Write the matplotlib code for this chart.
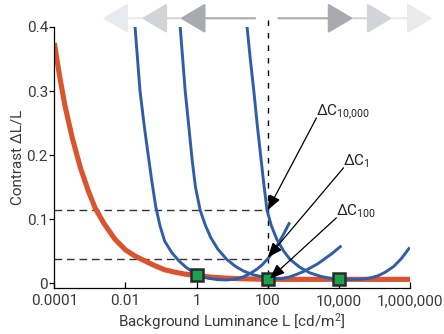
import numpy as np
import matplotlib.pyplot as plt

plt.rcParams['font.family'] = ['Roboto', 'DejaVu Sans']
plt.rcParams['mathtext.default'] = 'regular'

# threshold-vs-intensity curve (log10 L, contrast)
tvi_logL = [-4.0, -3.85, -3.7, -3.5, -3.27, -3.05, -2.85, -2.6, -2.3, -2.0,
            -1.75, -1.5, -1.2, -0.9, -0.6, -0.3, 0.0, 0.4, 0.8, 1.2, 1.6,
            2.0, 3.0, 4.0, 5.0, 6.0]
tvi_c = [0.375, 0.323, 0.277, 0.228, 0.181, 0.145, 0.117, 0.093, 0.069, 0.052,
         0.043, 0.036, 0.028, 0.021, 0.017, 0.014, 0.012, 0.0095, 0.008, 0.007,
         0.0065, 0.006, 0.006, 0.006, 0.006, 0.006]

# contrast curves for eyes adapted to 1, 100 and 10,000 cd/m2
c1_logL = [-1.73, -1.66, -1.59, -1.47, -1.36, -1.26, -1.15, -1.03, -0.9, -0.7,
           -0.5, -0.3, -0.1, 0.1, 0.35, 0.6, 0.85, 1.1, 1.3, 1.5, 1.7, 1.85,
           2.0, 2.15, 2.3, 2.45, 2.6]
c1_c = [0.400, 0.350, 0.300, 0.245, 0.200, 0.160, 0.120, 0.090, 0.066, 0.048,
        0.035, 0.025, 0.017, 0.011, 0.0075, 0.0055, 0.005, 0.0065, 0.0095,
        0.015, 0.022, 0.029, 0.038, 0.049, 0.062, 0.077, 0.093]

c100_logL = [-0.46, -0.39, -0.32, -0.21, -0.12, -0.03, 0.10, 0.25, 0.4, 0.6,
             0.85, 1.1, 1.32, 1.6, 1.9, 2.1, 2.35, 2.6, 2.8, 3.0, 3.2, 3.4,
             3.6, 3.8, 4.04]
c100_c = [0.400, 0.350, 0.300, 0.240, 0.190, 0.150, 0.114, 0.090, 0.071, 0.053,
          0.037, 0.026, 0.019, 0.013, 0.0095, 0.0075, 0.0068, 0.0095, 0.0135,
          0.018, 0.024, 0.030, 0.038, 0.046, 0.057]

c10k_logL = [1.42, 1.51, 1.61, 1.71, 1.80, 1.88, 1.98, 2.1, 2.26, 2.45, 2.63,
             2.9, 3.19, 3.5, 3.8, 4.1, 4.4, 4.7, 4.9, 5.1, 5.3, 5.54, 5.75, 5.97]
c10k_c = [0.400, 0.350, 0.300, 0.245, 0.200, 0.160, 0.114, 0.090, 0.068, 0.050,
          0.037, 0.025, 0.016, 0.0105, 0.0072, 0.006, 0.0058, 0.0065, 0.0085,
          0.0115, 0.017, 0.026, 0.038, 0.054]

# adaptation luminances
adapt_L = [1, 100, 10000]
adapt_c = [0.012, 0.006, 0.006]

probe_L = 100
dc10k = 0.114
dc1 = 0.037

xticks = [1e-4, 1e-2, 1, 1e2, 1e4, 1e6]
xticklabels = ['0.0001', '0.01', '1', '100', '10,000', '1,000,000']
yticks = [0, 0.1, 0.2, 0.3, 0.4]
yticklabels = ['0', '0.1', '0.2', '0.3', '0.4']

red = '#d9542f'
blue = '#2f5cab'
green = '#1aa24c'

fig = plt.figure(figsize=(4.44, 3.34), dpi=100)
ax = fig.add_axes([0.1223, 0.1368, 0.8011, 0.7824])
ax.set_xscale('log')
ax.set_xlim(1e-4, 1e6)
ax.set_ylim(-0.008, 0.4)

lg = lambda v: 10 ** np.asarray(v)

ax.plot(lg(tvi_logL), tvi_c, color=red, lw=3.7, solid_capstyle='butt',
        solid_joinstyle='round', zorder=2)
for lx, cy in [(c1_logL, c1_c), (c100_logL, c100_c), (c10k_logL, c10k_c)]:
    ax.plot(lg(lx), cy, color=blue, lw=2.1, solid_joinstyle='round', zorder=3)

# dashed guides
dash_kw = dict(color='#333333', lw=1.0, dashes=(5.5, 3.5), zorder=1)
ax.plot([1e-4, probe_L], [dc10k, dc10k], **dash_kw)
ax.plot([1e-4, probe_L], [dc1, dc1], **dash_kw)
ax.plot([probe_L, probe_L], [-0.008, 0.42], color='black', lw=1.0,
        dashes=(4, 5), clip_on=False, zorder=1)

ax.plot(adapt_L, adapt_c, 's', ms=9, mfc=green, mec='#2a2a2a', mew=1.8,
        zorder=5)

# adaptation direction arrows above the plot
ya = 0.4136
def top_arrow(x0, x1, col):
    ax.annotate('', xy=(x1, ya), xytext=(x0, ya), annotation_clip=False,
                arrowprops=dict(arrowstyle='-|>,head_length=1.6,head_width=0.95',
                                mutation_scale=10, lw=1.5, color=col,
                                shrinkA=0, shrinkB=0))

light, mid, dark = '#e9eaeb', '#d3d4d6', '#a8aaad'
top_arrow(10 ** -1.54, 10 ** -2.64, light)
top_arrow(10 ** -0.46, 10 ** -1.54, mid)
top_arrow(10 ** 1.65, 10 ** -0.46, dark)
top_arrow(10 ** 5.50, 10 ** 6.63, light)
top_arrow(10 ** 4.40, 10 ** 5.50, mid)
top_arrow(10 ** 2.30, 10 ** 4.40, dark)

# labelled pointers
def pointer(text, tx, ty, tip):
    ax.annotate('', xy=tip, xytext=(tx, ty - 0.004), annotation_clip=False,
                arrowprops=dict(arrowstyle='-|>,head_length=0.75,head_width=0.3',
                                mutation_scale=12, lw=0.9, color='black',
                                shrinkA=0, shrinkB=0), zorder=6)
    ax.text(tx, ty, text, fontsize=11, color='#222222', ha='left',
            va='baseline', zorder=6)

pointer('ΔC$_{10{,}000}$', 10 ** 3.37, 0.262, (probe_L, dc10k))
pointer('ΔC$_{1}$', 10 ** 4.13, 0.184, (probe_L, 0.04))
pointer('ΔC$_{100}$', 10 ** 3.93, 0.106, (10 ** 2.06, 0.007))

ax.set_xticks(xticks)
ax.set_xticklabels(xticklabels)
ax.xaxis.set_minor_locator(plt.NullLocator())
ax.set_yticks(yticks)
ax.set_yticklabels(yticklabels)
ax.tick_params(axis='x', direction='in', length=4, width=0.9, pad=4,
               labelsize=11, labelcolor='#3a3a3a')
ax.tick_params(axis='y', direction='out', length=3.5, width=0.9, pad=1,
               labelsize=11, labelcolor='#3a3a3a')
for s in ['top', 'right']:
    ax.spines[s].set_visible(False)
for s in ['left', 'bottom']:
    ax.spines[s].set_linewidth(0.9)

ax.set_xlabel('Background Luminance L [cd/m$^{2}$]', fontsize=11,
              color='#3a3a3a', labelpad=2)
ax.set_ylabel('Contrast ΔL/L', fontsize=11, color='#3a3a3a', labelpad=1.5)

fig.savefig('out.png', dpi=100)
